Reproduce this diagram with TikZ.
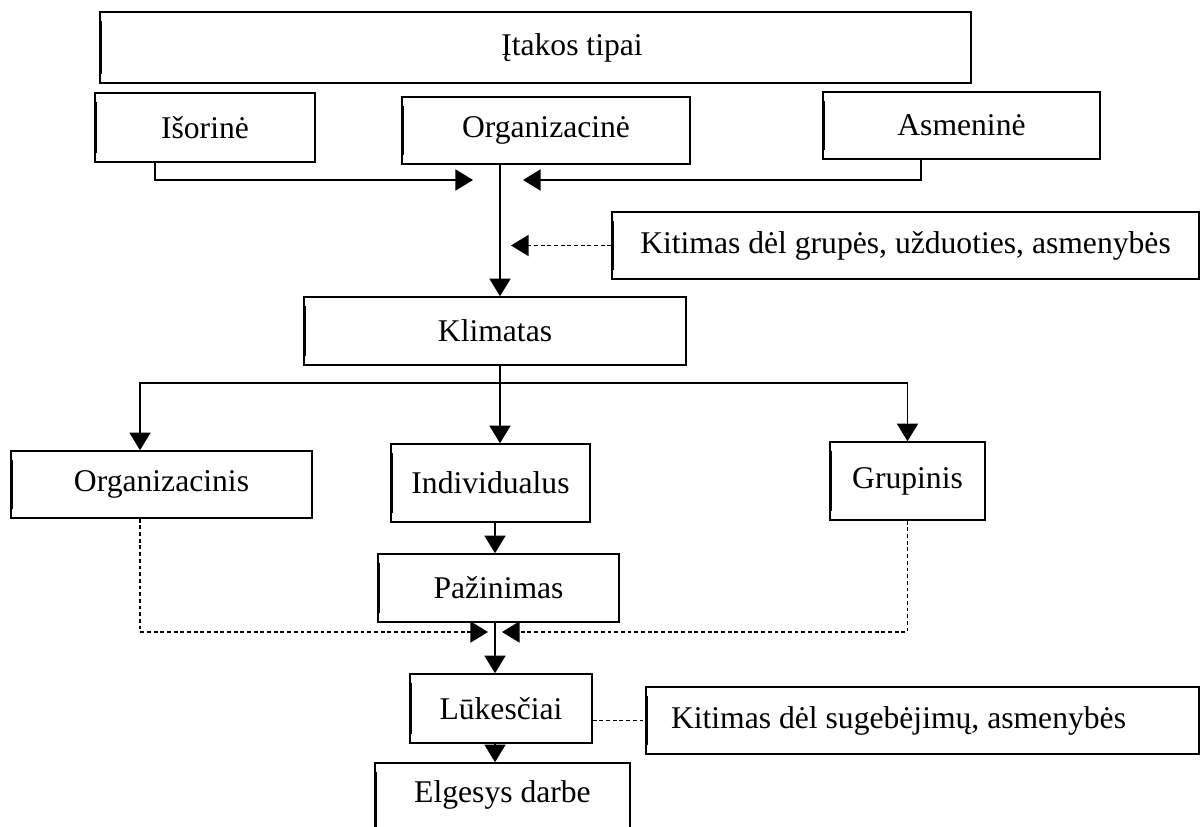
\documentclass[tikz,border=0pt]{standalone}
\usepackage{fontspec}
\setmainfont{Liberation Serif}
\usetikzlibrary{arrows.meta}

\begin{document}
\begin{tikzpicture}[x=0.02cm, y=-0.02cm, >={Triangle[length=10pt,width=12pt]},
    font=\fontsize{18}{21}\selectfont,
    box/.style={draw, line width=0.9pt, inner sep=0pt, minimum height=1.34cm,
        path picture={\draw[line width=2.6pt]
            ([yshift=-5pt]path picture bounding box.north west) --
            ([yshift=5pt]path picture bounding box.south west);}},
    link/.style={line width=0.8pt},
    hint/.style={line width=0.8pt, dash pattern=on 2.2pt off 1.6pt}]

    \useasboundingbox (0,0) rectangle (1200,827);

    % ===== Top level =====
    \node[box, minimum width=17.42cm, minimum height=1.42cm,
        label={[xshift=0.73cm]center:Įtakos tipai}] (tipai) at (535.5,47.5) {};
    \node[box, minimum width=4.4cm, minimum height=1.38cm] (isor) at (205,127.5) {Išorinė};
    \node[box, minimum width=5.76cm] (orgn) at (546,130.5) {Organizacinė};
    \node[box, minimum width=5.54cm] (asmen) at (961.5,125.5) {Asmeninė};
    \node[box, minimum width=11.74cm] (kitA) at (905.5,245.5) {Kitimas dėl grupės, užduoties, asmenybės};
    \node[box, minimum width=7.64cm, minimum height=1.36cm] (klim) at (495,331) {Klimatas};

    % ===== Climate types =====
    \node[box, minimum width=6.02cm] (orgs) at (161.5,484.5) {Organizacinis};
    \node[box, minimum width=3.98cm, minimum height=1.56cm] (indiv) at (490.5,483) {Individualus};
    \node[box, minimum width=3.1cm, minimum height=1.56cm] (grup) at (907.5,481) {Grupinis};

    % ===== Lower chain =====
    \node[box, minimum width=4.82cm, minimum height=1.36cm] (pazin) at (498.5,588) {Pažinimas};
    \node[box, minimum width=3.64cm, minimum height=1.38cm] (lukes) at (501,708.5) {Lūkesčiai};
    \node[box, minimum width=11.06cm,
        label={[xshift=-0.48cm]center:Kitimas dėl sugebėjimų, asmenybės}] (kitB) at (922.5,720.5) {};
    \node[box, minimum width=5.1cm, minimum height=1.74cm,
        label={[yshift=0.23cm]center:Elgesys darbe}] (elges) at (502.5,806.5) {};

    % ===== Junction points =====
    \coordinate (jA) at (500,180);
    \coordinate (split) at (500,383);
    \coordinate (jC) at (495,632);

    % ===== Connectors =====
    \draw[link,->,shorten >=0.54cm] ([xshift=-1cm]isor.south) |- (jA);
    \draw[link,->,shorten >=0.46cm] ([xshift=-0.81cm]asmen.south) |- (jA);
    \draw[link,->] (jA |- orgn.south) -- (jA |- klim.north);
    \draw[hint,->,shorten >=0.22cm] (kitA.west) -- (kitA.west -| jA);

    \draw[link] (jA |- klim.south) -- (split);
    \draw[link,->] (split) -| ([xshift=-0.43cm]orgs.north);
    \draw[link,->] (split) -- (split |- indiv.north);
    \draw[link,->] (split) -| (grup.north);

    \draw[link,->] (jC |- indiv.south) -- (jC |- pazin.north);
    \draw[hint,->,shorten >=0.14cm] ([xshift=-0.43cm]orgs.south) |- (jC);
    \draw[hint,->,shorten >=0.14cm] (grup.south) |- (jC);
    \draw[link,->] (jC |- pazin.south) -- (jC |- lukes.north);
    \draw[hint] (kitB.west -| lukes.east) -- (kitB.west);
    \draw[link,->] (jC |- lukes.south) -- (jC |- elges.north);

\end{tikzpicture}
\end{document}
